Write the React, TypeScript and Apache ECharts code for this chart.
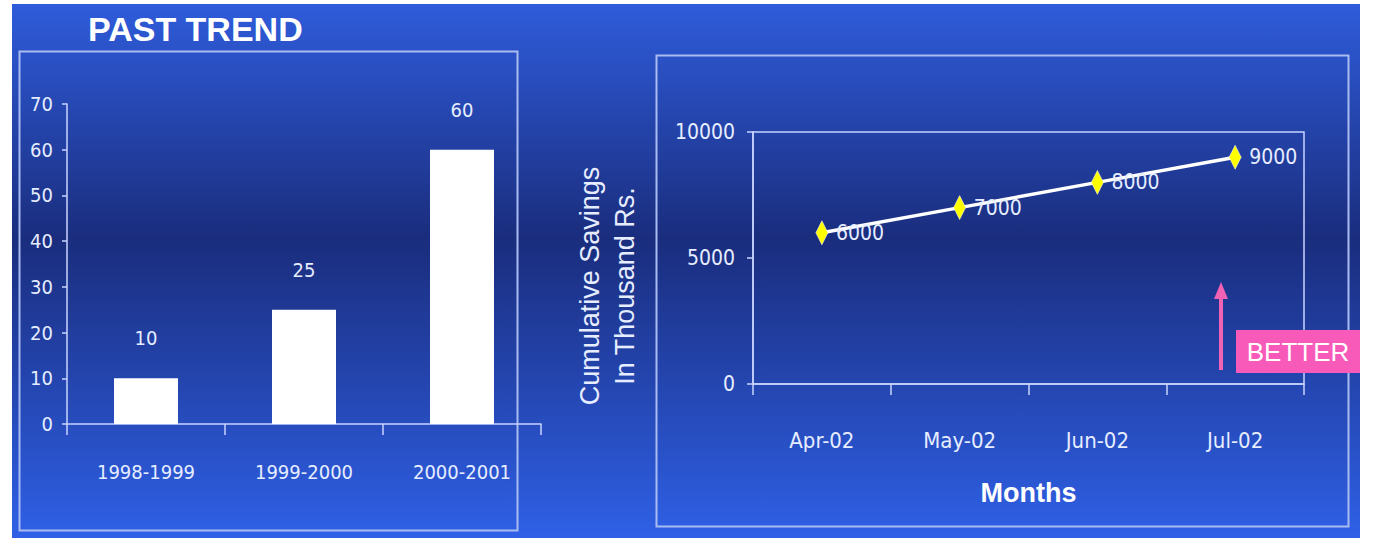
import React, { useEffect, useRef } from "react";
import * as echarts from "echarts";

const years = ["1998-1999", "1999-2000", "2000-2001"];
const pastValues = [10, 25, 60];
const pastAxis = { min: 0, max: 70, interval: 10 };

const months = ["Apr-02", "May-02", "Jun-02", "Jul-02"];
const savings = [6000, 7000, 8000, 9000];
const savingsAxis = { min: 0, max: 10000, interval: 5000 };

const NARROW = '"Liberation Sans Narrow", "Arial Narrow", "DejaVu Sans Condensed", sans-serif';
const ARIAL = '"Liberation Sans", Arial, Helvetica, sans-serif';
const TXT = "#e6edff";
const AXIS = "#c8d4ff";
const BOX = "#a9bcf2";

export default function App() {
  const ref = useRef<HTMLDivElement>(null);
  useEffect(() => {
    document.body.style.margin = "0";
    const chart = echarts.init(ref.current!, undefined, { renderer: "svg" });
    const bg = new echarts.graphic.LinearGradient(0, 0, 0, 1, [
      { offset: 0, color: "#2f5cdb" },
      { offset: 0.44, color: "#1a2d7d" },
      { offset: 1, color: "#2f60e6" },
    ]);
    const plain = (v: number) => String(v);
    chart.setOption({
      animation: false,
      backgroundColor: "#ffffff",
      graphic: [
        { type: "rect", z: -10, shape: { x: 12, y: 4, width: 1348, height: 534 }, style: { fill: bg } },
        { type: "rect", z: -5, shape: { x: 19.5, y: 51.5, width: 498, height: 479 }, style: { fill: "none", stroke: BOX, lineWidth: 2 } },
        { type: "rect", z: -5, shape: { x: 656.5, y: 55.5, width: 692, height: 471 }, style: { fill: "none", stroke: BOX, lineWidth: 2 } },
        { type: "text", x: 88, y: 29, style: { text: "PAST TREND", fill: "#ffffff", font: `bold 34px ${ARIAL}`, verticalAlign: "middle" } },
        {
          type: "text", x: 607, y: 286, rotation: Math.PI / 2,
          style: { text: "Cumulative Savings\nIn Thousand Rs.", fill: TXT, fontSize: 27, fontFamily: ARIAL, lineHeight: 35, align: "center", verticalAlign: "middle" },
        },
        { type: "line", shape: { x1: 1221, y1: 370, x2: 1221, y2: 296 }, style: { stroke: "#f062b4", lineWidth: 4 } },
        { type: "polygon", shape: { points: [[1214, 299], [1221, 282], [1228, 299]] }, style: { fill: "#f062b4" } },
        { type: "rect", shape: { x: 1236, y: 330, width: 124, height: 43 }, style: { fill: "#f75ab8" } },
        { type: "text", x: 1298, y: 352, style: { text: "BETTER", fill: "#ffffff", fontSize: 26, fontFamily: ARIAL, align: "center", verticalAlign: "middle" } },
      ],
      grid: [
        { left: 67, top: 104, width: 474, height: 320 },
        { left: 753, top: 132, width: 551, height: 252, show: true, borderColor: AXIS, borderWidth: 1.5, backgroundColor: "transparent" },
      ],
      xAxis: [
        {
          type: "category", gridIndex: 0, data: years,
          axisLine: { lineStyle: { color: AXIS, width: 1.5 } },
          axisTick: { show: true, length: 11, lineStyle: { color: AXIS, width: 1.5 } },
          axisLabel: { color: TXT, fontSize: 20, fontFamily: NARROW, margin: 38 },
        },
        {
          type: "category", gridIndex: 1, data: months,
          axisLine: { lineStyle: { color: AXIS, width: 1.5 } },
          axisTick: { show: true, length: 11, lineStyle: { color: AXIS, width: 1.5 } },
          axisLabel: { color: TXT, fontSize: 22, fontFamily: NARROW, margin: 45 },
          name: "Months", nameLocation: "middle", nameGap: 95,
          nameTextStyle: { color: "#ffffff", fontSize: 27, fontWeight: "bold", fontFamily: ARIAL },
        },
      ],
      yAxis: [
        {
          type: "value", gridIndex: 0, ...pastAxis,
          axisLine: { show: true, lineStyle: { color: AXIS, width: 1.5 } },
          axisTick: { show: true, length: 5, lineStyle: { color: AXIS, width: 1.5 } },
          splitLine: { show: false },
          axisLabel: { color: TXT, fontSize: 20, fontFamily: NARROW, margin: 14, formatter: plain },
        },
        {
          type: "value", gridIndex: 1, ...savingsAxis,
          axisLine: { show: true, lineStyle: { color: AXIS, width: 1.5 } },
          axisTick: { show: true, length: 6, lineStyle: { color: AXIS, width: 1.5 } },
          splitLine: { show: false },
          axisLabel: { color: TXT, fontSize: 21, fontFamily: NARROW, margin: 18, formatter: plain },
        },
      ],
      series: [
        {
          type: "bar", xAxisIndex: 0, yAxisIndex: 0, data: pastValues, barWidth: 64,
          itemStyle: { color: "#ffffff" },
          label: { show: true, position: "top", distance: 30, color: TXT, fontSize: 20, fontFamily: NARROW },
        },
        {
          type: "line", xAxisIndex: 1, yAxisIndex: 1, data: savings,
          symbol: "diamond", symbolSize: [12, 24],
          itemStyle: { color: "#ffff00", borderColor: "#ffffff", borderWidth: 0.5 },
          lineStyle: { color: "#ffffff", width: 3.5 },
          label: { show: true, position: "right", distance: 8, color: TXT, fontSize: 21, fontFamily: NARROW },
        },
      ],
    });
    return () => chart.dispose();
  }, []);
  return <div ref={ref} style={{ width: 1373, height: 538 }} />;
}
